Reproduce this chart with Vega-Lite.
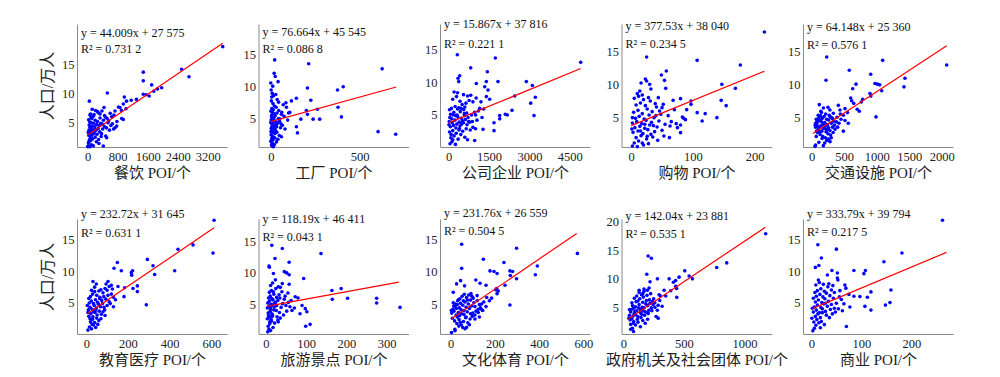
{
"$schema":"https://vega.github.io/schema/vega-lite/v6.json",
"padding":{"left":39,"top":18,"right":5,"bottom":5},
"background":"white",
"datasets":{
"fit":[
{"p":1,"x1":20,"y1":2.85,"x2":3600,"y2":18.6},
{"p":2,"x1":0,"y1":4.55,"x2":705,"y2":9.96},
{"p":3,"x1":0,"y1":3.78,"x2":4909,"y2":12.1},
{"p":4,"x1":0,"y1":3.8,"x2":216,"y2":11.96},
{"p":5,"x1":20,"y1":2.66,"x2":2077,"y2":15.9},
{"p":6,"x1":8,"y1":3.35,"x2":613,"y2":16.9},
{"p":7,"x1":5,"y1":4.7,"x2":330,"y2":8.54},
{"p":8,"x1":5,"y1":2.77,"x2":570,"y2":15.87},
{"p":9,"x1":40,"y1":2.96,"x2":1173,"y2":19.05},
{"p":10,"x1":3,"y1":4.08,"x2":270,"y2":12.99}
],
"ann":[
{"p":1,"eq":"y = 44.009x + 27 575","r2":"R² = 0.731 2"},
{"p":2,"eq":"y = 76.664x + 45 545","r2":"R² = 0.086 8"},
{"p":3,"eq":"y = 15.867x + 37 816","r2":"R² = 0.221 1"},
{"p":4,"eq":"y = 377.53x + 38 040","r2":"R² = 0.234 5"},
{"p":5,"eq":"y = 64.148x + 25 360","r2":"R² = 0.576 1"},
{"p":6,"eq":"y = 232.72x + 31 645","r2":"R² = 0.631 1"},
{"p":7,"eq":"y = 118.19x + 46 411","r2":"R² = 0.043 1"},
{"p":8,"eq":"y = 231.76x + 26 559","r2":"R² = 0.504 5"},
{"p":9,"eq":"y = 142.04x + 23 881","r2":"R² = 0.535 1"},
{"p":10,"eq":"y = 333.79x + 39 794","r2":"R² = 0.217 5"}
],
"pts":[
{"p":1,"x":3600,"y":18.0},{"p":1,"x":2506,"y":14.1},{"p":1,"x":2701,"y":12.8},{"p":1,"x":1483,"y":13.6},{"p":1,"x":1483,"y":12.1},{"p":1,"x":1706,"y":11.4},{"p":1,"x":1483,"y":9.8},{"p":1,"x":1973,"y":10.9},{"p":1,"x":1860,"y":10.7},{"p":1,"x":1760,"y":10.3},{"p":1,"x":1640,"y":9.5},{"p":1,"x":1560,"y":9.7},{"p":1,"x":1300,"y":8.9},{"p":1,"x":1160,"y":8.75},{"p":1,"x":1035,"y":8.6},{"p":1,"x":977,"y":9.3},{"p":1,"x":523,"y":10.0},{"p":1,"x":44,"y":8.6},{"p":1,"x":861,"y":7.5},{"p":1,"x":728,"y":6.9},{"p":1,"x":950,"y":8.1},{"p":1,"x":1021,"y":7.3},{"p":1,"x":906,"y":5.6},{"p":1,"x":950,"y":5.45},{"p":1,"x":728,"y":4.0},{"p":1,"x":773,"y":4.3},{"p":1,"x":506,"y":2.3},{"p":1,"x":480,"y":2.6},{"p":1,"x":416,"y":0.86},{"p":1,"x":435,"y":7.5},{"p":1,"x":283,"y":6.6},{"p":1,"x":900,"y":7.0},{"p":1,"x":820,"y":7.6},{"p":1,"x":700,"y":6.2},{"p":1,"x":640,"y":5.9},{"p":1,"x":600,"y":6.5},{"p":1,"x":560,"y":5.2},{"p":1,"x":520,"y":5.6},{"p":1,"x":780,"y":5.1},{"p":1,"x":660,"y":4.7},{"p":1,"x":690,"y":3.8},{"p":1,"x":620,"y":4.4},{"p":1,"x":580,"y":3.6},{"p":1,"x":540,"y":4.9},{"p":1,"x":480,"y":5.8},{"p":1,"x":450,"y":6.1},{"p":1,"x":420,"y":5.3},{"p":1,"x":380,"y":6.9},{"p":1,"x":350,"y":4.8},{"p":1,"x":330,"y":5.7},{"p":1,"x":300,"y":4.4},{"p":1,"x":280,"y":3.9},{"p":1,"x":260,"y":5.1},{"p":1,"x":240,"y":4.6},{"p":1,"x":220,"y":3.6},{"p":1,"x":200,"y":5.3},{"p":1,"x":190,"y":4.2},{"p":1,"x":175,"y":3.1},{"p":1,"x":160,"y":4.8},{"p":1,"x":150,"y":6.0},{"p":1,"x":140,"y":3.5},{"p":1,"x":130,"y":2.9},{"p":1,"x":120,"y":4.3},{"p":1,"x":110,"y":5.6},{"p":1,"x":100,"y":3.8},{"p":1,"x":95,"y":2.6},{"p":1,"x":90,"y":4.9},{"p":1,"x":80,"y":3.3},{"p":1,"x":75,"y":6.4},{"p":1,"x":70,"y":2.2},{"p":1,"x":60,"y":4.1},{"p":1,"x":55,"y":5.0},{"p":1,"x":50,"y":3.0},{"p":1,"x":45,"y":1.9},{"p":1,"x":40,"y":4.5},{"p":1,"x":35,"y":3.6},{"p":1,"x":30,"y":2.7},{"p":1,"x":25,"y":5.4},{"p":1,"x":20,"y":1.4},{"p":1,"x":15,"y":3.2},{"p":1,"x":10,"y":0.8},{"p":1,"x":5,"y":0.75},{"p":1,"x":20,"y":0.9},{"p":1,"x":60,"y":0.75},{"p":1,"x":100,"y":1.1},{"p":1,"x":150,"y":0.9},{"p":1,"x":30,"y":1.6},{"p":1,"x":80,"y":1.8},{"p":1,"x":130,"y":2.1},{"p":1,"x":200,"y":2.4},{"p":1,"x":250,"y":2.9},{"p":1,"x":320,"y":3.3},{"p":1,"x":370,"y":3.0},{"p":1,"x":400,"y":3.8},{"p":1,"x":450,"y":4.2},{"p":1,"x":360,"y":2.5},{"p":1,"x":230,"y":1.6},{"p":1,"x":290,"y":2.0},{"p":1,"x":170,"y":6.3},{"p":1,"x":210,"y":7.0},{"p":1,"x":330,"y":6.4},{"p":1,"x":260,"y":6.8},{"p":1,"x":400,"y":4.6},{"p":1,"x":500,"y":4.0},{"p":1,"x":190,"y":3.8},{"p":1,"x":300,"y":1.3},{"p":1,"x":120,"y":7.2},{"p":1,"x":90,"y":5.8},{"p":1,"x":60,"y":6.2},
{"p":2,"x":22,"y":14.2},{"p":2,"x":213,"y":13.6},{"p":2,"x":626,"y":12.8},{"p":2,"x":19,"y":12.1},{"p":2,"x":25,"y":11.6},{"p":2,"x":41,"y":10.8},{"p":2,"x":0,"y":10.6},{"p":2,"x":11,"y":10.1},{"p":2,"x":206,"y":9.8},{"p":2,"x":375,"y":9.5},{"p":2,"x":407,"y":10.0},{"p":2,"x":378,"y":6.8},{"p":2,"x":397,"y":5.3},{"p":2,"x":603,"y":3.0},{"p":2,"x":702,"y":2.6},{"p":2,"x":144,"y":8.2},{"p":2,"x":116,"y":7.8},{"p":2,"x":225,"y":7.9},{"p":2,"x":262,"y":6.5},{"p":2,"x":200,"y":6.3},{"p":2,"x":206,"y":5.7},{"p":2,"x":275,"y":4.95},{"p":2,"x":238,"y":4.95},{"p":2,"x":169,"y":4.95},{"p":2,"x":144,"y":3.75},{"p":2,"x":150,"y":2.8},{"p":2,"x":107,"y":6.0},{"p":2,"x":88,"y":6.8},{"p":2,"x":60,"y":5.7},{"p":2,"x":51,"y":5.0},{"p":2,"x":2,"y":9.5},{"p":2,"x":8,"y":9.0},{"p":2,"x":5,"y":8.4},{"p":2,"x":15,"y":8.6},{"p":2,"x":3,"y":7.8},{"p":2,"x":12,"y":7.4},{"p":2,"x":20,"y":7.0},{"p":2,"x":6,"y":6.6},{"p":2,"x":1,"y":6.2},{"p":2,"x":10,"y":6.0},{"p":2,"x":18,"y":5.8},{"p":2,"x":25,"y":5.5},{"p":2,"x":4,"y":5.3},{"p":2,"x":9,"y":5.1},{"p":2,"x":14,"y":4.9},{"p":2,"x":22,"y":4.7},{"p":2,"x":30,"y":4.5},{"p":2,"x":0,"y":4.4},{"p":2,"x":7,"y":4.2},{"p":2,"x":16,"y":4.0},{"p":2,"x":11,"y":3.9},{"p":2,"x":28,"y":3.7},{"p":2,"x":3,"y":3.5},{"p":2,"x":19,"y":3.3},{"p":2,"x":6,"y":3.1},{"p":2,"x":13,"y":2.9},{"p":2,"x":24,"y":2.7},{"p":2,"x":2,"y":2.5},{"p":2,"x":9,"y":2.3},{"p":2,"x":17,"y":2.1},{"p":2,"x":5,"y":1.9},{"p":2,"x":12,"y":1.7},{"p":2,"x":0,"y":1.5},{"p":2,"x":8,"y":1.2},{"p":2,"x":4,"y":0.9},{"p":2,"x":10,"y":0.7},{"p":2,"x":15,"y":0.65},{"p":2,"x":20,"y":1.0},{"p":2,"x":1,"y":3.0},{"p":2,"x":26,"y":3.2},{"p":2,"x":33,"y":3.8},{"p":2,"x":38,"y":4.3},{"p":2,"x":42,"y":5.0},{"p":2,"x":35,"y":5.9},{"p":2,"x":45,"y":6.3},{"p":2,"x":50,"y":4.6},{"p":2,"x":55,"y":3.6},{"p":2,"x":48,"y":2.4},{"p":2,"x":40,"y":1.8},{"p":2,"x":32,"y":1.4},{"p":2,"x":60,"y":2.2},{"p":2,"x":65,"y":4.0},{"p":2,"x":70,"y":7.2},{"p":2,"x":75,"y":5.4},{"p":2,"x":80,"y":3.4},{"p":2,"x":30,"y":6.8},{"p":2,"x":36,"y":8.0},{"p":2,"x":28,"y":8.8},{"p":2,"x":44,"y":7.6},{"p":2,"x":5,"y":5.6},{"p":2,"x":14,"y":6.4},{"p":2,"x":21,"y":3.6},{"p":2,"x":27,"y":4.1},{"p":2,"x":2,"y":4.8},{"p":2,"x":18,"y":5.2},{"p":2,"x":11,"y":4.5},{"p":2,"x":7,"y":3.8},{"p":2,"x":23,"y":2.0},{"p":2,"x":34,"y":2.9},{"p":2,"x":95,"y":4.8},{"p":2,"x":100,"y":5.9},{"p":2,"x":85,"y":7.5},{"p":2,"x":58,"y":4.2},{"p":2,"x":62,"y":6.0},
{"p":3,"x":4909,"y":13.05},{"p":3,"x":320,"y":14.2},{"p":3,"x":1733,"y":13.7},{"p":3,"x":818,"y":12.2},{"p":3,"x":1436,"y":11.6},{"p":3,"x":409,"y":11.0},{"p":3,"x":347,"y":10.6},{"p":3,"x":372,"y":10.1},{"p":3,"x":1399,"y":10.1},{"p":3,"x":1461,"y":8.8},{"p":3,"x":1339,"y":9.3},{"p":3,"x":1833,"y":10.1},{"p":3,"x":2887,"y":10.1},{"p":3,"x":3110,"y":9.5},{"p":3,"x":1027,"y":9.8},{"p":3,"x":2454,"y":7.9},{"p":3,"x":1524,"y":7.4},{"p":3,"x":3049,"y":6.8},{"p":3,"x":3221,"y":7.7},{"p":3,"x":3172,"y":4.9},{"p":3,"x":2354,"y":5.7},{"p":3,"x":2105,"y":5.1},{"p":3,"x":1896,"y":4.9},{"p":3,"x":1896,"y":4.4},{"p":3,"x":2180,"y":5.0},{"p":3,"x":1685,"y":3.8},{"p":3,"x":1685,"y":2.6},{"p":3,"x":1276,"y":2.8},{"p":3,"x":966,"y":1.1},{"p":3,"x":1238,"y":4.6},{"p":3,"x":50,"y":0.6},{"p":3,"x":120,"y":0.9},{"p":3,"x":250,"y":0.5},{"p":3,"x":80,"y":1.5},{"p":3,"x":200,"y":1.8},{"p":3,"x":350,"y":1.3},{"p":3,"x":450,"y":2.0},{"p":3,"x":600,"y":1.6},{"p":3,"x":700,"y":1.2},{"p":3,"x":30,"y":2.4},{"p":3,"x":150,"y":2.6},{"p":3,"x":280,"y":2.2},{"p":3,"x":400,"y":2.9},{"p":3,"x":520,"y":2.5},{"p":3,"x":650,"y":2.9},{"p":3,"x":800,"y":2.7},{"p":3,"x":900,"y":3.1},{"p":3,"x":1000,"y":2.9},{"p":3,"x":60,"y":3.2},{"p":3,"x":180,"y":3.4},{"p":3,"x":300,"y":3.6},{"p":3,"x":420,"y":3.3},{"p":3,"x":550,"y":3.8},{"p":3,"x":680,"y":3.5},{"p":3,"x":780,"y":3.9},{"p":3,"x":880,"y":4.0},{"p":3,"x":1050,"y":4.2},{"p":3,"x":20,"y":4.0},{"p":3,"x":110,"y":4.4},{"p":3,"x":230,"y":4.2},{"p":3,"x":340,"y":4.7},{"p":3,"x":470,"y":4.5},{"p":3,"x":590,"y":4.9},{"p":3,"x":720,"y":4.6},{"p":3,"x":850,"y":5.0},{"p":3,"x":960,"y":5.4},{"p":3,"x":1100,"y":5.6},{"p":3,"x":70,"y":5.1},{"p":3,"x":190,"y":5.4},{"p":3,"x":310,"y":5.0},{"p":3,"x":430,"y":5.5},{"p":3,"x":560,"y":5.8},{"p":3,"x":670,"y":5.3},{"p":3,"x":100,"y":6.0},{"p":3,"x":240,"y":6.3},{"p":3,"x":380,"y":6.1},{"p":3,"x":500,"y":6.6},{"p":3,"x":640,"y":6.8},{"p":3,"x":760,"y":7.2},{"p":3,"x":900,"y":7.0},{"p":3,"x":1020,"y":7.6},{"p":3,"x":150,"y":7.4},{"p":3,"x":290,"y":7.8},{"p":3,"x":420,"y":7.1},{"p":3,"x":550,"y":8.1},{"p":3,"x":700,"y":7.9},{"p":3,"x":820,"y":8.0},{"p":3,"x":200,"y":8.5},{"p":3,"x":330,"y":8.4},{"p":3,"x":40,"y":4.6},{"p":3,"x":130,"y":3.8},{"p":3,"x":260,"y":4.9},{"p":3,"x":390,"y":3.9},{"p":3,"x":510,"y":4.1},{"p":3,"x":620,"y":4.3},{"p":3,"x":740,"y":4.0},{"p":3,"x":30,"y":5.8},{"p":3,"x":160,"y":5.0},{"p":3,"x":270,"y":3.0},{"p":3,"x":380,"y":2.7},{"p":3,"x":480,"y":3.6},{"p":3,"x":580,"y":5.2},{"p":3,"x":150,"y":1.2},{"p":3,"x":10,"y":3.5},{"p":3,"x":90,"y":2.0},{"p":3,"x":330,"y":5.9},{"p":3,"x":460,"y":6.0},{"p":3,"x":600,"y":6.2},{"p":3,"x":1150,"y":6.0},{"p":3,"x":1300,"y":5.9},{"p":3,"x":1200,"y":7.0},{"p":3,"x":1400,"y":7.8},{"p":3,"x":1000,"y":5.0},
{"p":4,"x":216,"y":17.85},{"p":4,"x":25,"y":14.1},{"p":4,"x":107,"y":13.6},{"p":4,"x":177,"y":12.9},{"p":4,"x":57,"y":12.0},{"p":4,"x":49,"y":11.4},{"p":4,"x":54,"y":10.6},{"p":4,"x":23,"y":10.8},{"p":4,"x":25,"y":10.5},{"p":4,"x":16,"y":10.2},{"p":4,"x":30,"y":10.0},{"p":4,"x":56,"y":9.4},{"p":4,"x":147,"y":10.0},{"p":4,"x":169,"y":9.4},{"p":4,"x":107,"y":5.75},{"p":4,"x":97,"y":7.0},{"p":4,"x":97,"y":7.5},{"p":4,"x":146,"y":7.6},{"p":4,"x":154,"y":6.8},{"p":4,"x":139,"y":5.0},{"p":4,"x":83,"y":5.1},{"p":4,"x":85,"y":4.9},{"p":4,"x":80,"y":7.85},{"p":4,"x":68,"y":7.6},{"p":4,"x":73,"y":4.1},{"p":4,"x":80,"y":3.9},{"p":4,"x":80,"y":2.75},{"p":4,"x":53,"y":2.25},{"p":4,"x":63,"y":3.75},{"p":4,"x":46,"y":6.0},{"p":4,"x":50,"y":6.5},{"p":4,"x":10,"y":0.65},{"p":4,"x":2,"y":0.75},{"p":4,"x":5,"y":1.2},{"p":4,"x":12,"y":1.5},{"p":4,"x":20,"y":0.9},{"p":4,"x":28,"y":1.1},{"p":4,"x":8,"y":2.0},{"p":4,"x":16,"y":2.3},{"p":4,"x":25,"y":1.8},{"p":4,"x":35,"y":2.1},{"p":4,"x":3,"y":2.8},{"p":4,"x":11,"y":3.0},{"p":4,"x":19,"y":2.6},{"p":4,"x":27,"y":3.2},{"p":4,"x":38,"y":2.9},{"p":4,"x":6,"y":3.5},{"p":4,"x":14,"y":3.7},{"p":4,"x":22,"y":3.4},{"p":4,"x":30,"y":3.9},{"p":4,"x":42,"y":3.6},{"p":4,"x":2,"y":4.2},{"p":4,"x":9,"y":4.4},{"p":4,"x":17,"y":4.1},{"p":4,"x":24,"y":4.6},{"p":4,"x":33,"y":4.3},{"p":4,"x":45,"y":4.5},{"p":4,"x":7,"y":4.9},{"p":4,"x":13,"y":5.2},{"p":4,"x":21,"y":4.8},{"p":4,"x":29,"y":5.4},{"p":4,"x":37,"y":5.0},{"p":4,"x":4,"y":5.8},{"p":4,"x":11,"y":6.1},{"p":4,"x":18,"y":5.6},{"p":4,"x":26,"y":6.3},{"p":4,"x":34,"y":5.9},{"p":4,"x":41,"y":6.6},{"p":4,"x":8,"y":6.9},{"p":4,"x":15,"y":7.2},{"p":4,"x":23,"y":6.8},{"p":4,"x":31,"y":7.5},{"p":4,"x":39,"y":7.1},{"p":4,"x":5,"y":7.9},{"p":4,"x":12,"y":8.2},{"p":4,"x":20,"y":7.7},{"p":4,"x":28,"y":8.0},{"p":4,"x":10,"y":8.6},{"p":4,"x":18,"y":8.4},{"p":4,"x":1,"y":3.3},{"p":4,"x":32,"y":2.5},{"p":4,"x":43,"y":1.6},{"p":4,"x":50,"y":3.1},{"p":4,"x":55,"y":4.0},{"p":4,"x":60,"y":5.3},{"p":4,"x":65,"y":4.4},{"p":4,"x":70,"y":6.2},{"p":4,"x":75,"y":3.5},{"p":4,"x":48,"y":5.5},{"p":4,"x":52,"y":7.0},{"p":4,"x":14,"y":9.0},{"p":4,"x":22,"y":4.0},{"p":4,"x":36,"y":3.8},{"p":4,"x":2,"y":5.0},{"p":4,"x":26,"y":2.2},{"p":4,"x":40,"y":5.3},{"p":4,"x":15,"y":3.0},{"p":4,"x":18,"y":1.2},{"p":4,"x":90,"y":6.2},{"p":4,"x":88,"y":4.7},{"p":4,"x":120,"y":5.6},{"p":4,"x":115,"y":4.5},{"p":4,"x":44,"y":8.0},{"p":4,"x":62,"y":2.0},{"p":4,"x":32,"y":9.3},
{"p":5,"x":2077,"y":13.0},{"p":5,"x":231,"y":14.2},{"p":5,"x":1092,"y":13.7},{"p":5,"x":578,"y":12.2},{"p":5,"x":908,"y":11.6},{"p":5,"x":220,"y":10.7},{"p":5,"x":1435,"y":11.0},{"p":5,"x":1420,"y":9.7},{"p":5,"x":682,"y":10.1},{"p":5,"x":631,"y":9.4},{"p":5,"x":974,"y":10.2},{"p":5,"x":1010,"y":10.1},{"p":5,"x":1046,"y":10.0},{"p":5,"x":1077,"y":9.1},{"p":5,"x":897,"y":8.7},{"p":5,"x":910,"y":8.3},{"p":5,"x":785,"y":7.8},{"p":5,"x":763,"y":7.4},{"p":5,"x":732,"y":6.0},{"p":5,"x":989,"y":5.15},{"p":5,"x":600,"y":8.0},{"p":5,"x":615,"y":7.6},{"p":5,"x":646,"y":7.2},{"p":5,"x":512,"y":6.4},{"p":5,"x":487,"y":5.4},{"p":5,"x":435,"y":6.2},{"p":5,"x":512,"y":4.6},{"p":5,"x":563,"y":4.2},{"p":5,"x":410,"y":6.9},{"p":5,"x":333,"y":5.7},{"p":5,"x":282,"y":5.2},{"p":5,"x":487,"y":3.0},{"p":5,"x":117,"y":7.0},{"p":5,"x":282,"y":1.4},{"p":5,"x":51,"y":0.7},{"p":5,"x":179,"y":0.8},{"p":5,"x":700,"y":6.3},{"p":5,"x":550,"y":5.8},{"p":5,"x":450,"y":4.8},{"p":5,"x":380,"y":4.4},{"p":5,"x":60,"y":3.6},{"p":5,"x":80,"y":4.1},{"p":5,"x":100,"y":3.2},{"p":5,"x":120,"y":4.6},{"p":5,"x":140,"y":3.8},{"p":5,"x":160,"y":4.9},{"p":5,"x":180,"y":3.4},{"p":5,"x":200,"y":4.3},{"p":5,"x":220,"y":2.9},{"p":5,"x":240,"y":3.9},{"p":5,"x":260,"y":4.7},{"p":5,"x":280,"y":3.1},{"p":5,"x":300,"y":4.2},{"p":5,"x":320,"y":3.6},{"p":5,"x":340,"y":4.5},{"p":5,"x":360,"y":3.3},{"p":5,"x":70,"y":4.8},{"p":5,"x":90,"y":2.8},{"p":5,"x":110,"y":5.0},{"p":5,"x":130,"y":2.5},{"p":5,"x":150,"y":4.4},{"p":5,"x":170,"y":2.2},{"p":5,"x":190,"y":5.2},{"p":5,"x":210,"y":2.0},{"p":5,"x":230,"y":4.8},{"p":5,"x":250,"y":2.6},{"p":5,"x":270,"y":5.4},{"p":5,"x":290,"y":2.4},{"p":5,"x":310,"y":5.0},{"p":5,"x":330,"y":2.8},{"p":5,"x":55,"y":3.9},{"p":5,"x":75,"y":3.0},{"p":5,"x":95,"y":4.5},{"p":5,"x":115,"y":3.5},{"p":5,"x":135,"y":5.3},{"p":5,"x":155,"y":3.0},{"p":5,"x":175,"y":4.0},{"p":5,"x":195,"y":3.7},{"p":5,"x":215,"y":5.6},{"p":5,"x":235,"y":3.2},{"p":5,"x":255,"y":1.8},{"p":5,"x":275,"y":1.5},{"p":5,"x":200,"y":1.2},{"p":5,"x":230,"y":1.6},{"p":5,"x":160,"y":1.9},{"p":5,"x":300,"y":2.0},{"p":5,"x":350,"y":3.9},{"p":5,"x":390,"y":5.1},{"p":5,"x":420,"y":4.2},{"p":5,"x":80,"y":4.4},{"p":5,"x":60,"y":4.2},{"p":5,"x":100,"y":5.4},{"p":5,"x":140,"y":6.0},{"p":5,"x":180,"y":6.5},{"p":5,"x":250,"y":6.6},{"p":5,"x":280,"y":6.2},{"p":5,"x":210,"y":3.4},{"p":5,"x":120,"y":2.9},{"p":5,"x":90,"y":3.7},{"p":5,"x":70,"y":2.2},{"p":5,"x":60,"y":0.9},{"p":5,"x":110,"y":1.3},{"p":5,"x":400,"y":3.6},{"p":5,"x":440,"y":5.6},{"p":5,"x":320,"y":4.9},{"p":5,"x":150,"y":5.8},{"p":5,"x":260,"y":3.5},{"p":5,"x":230,"y":4.0},
{"p":6,"x":613,"y":18.1},{"p":6,"x":608,"y":12.9},{"p":6,"x":512,"y":14.2},{"p":6,"x":440,"y":13.5},{"p":6,"x":424,"y":10.1},{"p":6,"x":328,"y":9.5},{"p":6,"x":320,"y":10.9},{"p":6,"x":293,"y":11.9},{"p":6,"x":288,"y":4.7},{"p":6,"x":245,"y":7.7},{"p":6,"x":224,"y":7.3},{"p":6,"x":245,"y":6.8},{"p":6,"x":216,"y":9.8},{"p":6,"x":218,"y":9.4},{"p":6,"x":222,"y":10.1},{"p":6,"x":184,"y":7.4},{"p":6,"x":181,"y":6.0},{"p":6,"x":149,"y":11.4},{"p":6,"x":133,"y":10.5},{"p":6,"x":168,"y":10.1},{"p":6,"x":152,"y":7.6},{"p":6,"x":32,"y":8.4},{"p":6,"x":48,"y":8.0},{"p":6,"x":104,"y":8.4},{"p":6,"x":8,"y":0.7},{"p":6,"x":15,"y":1.2},{"p":6,"x":25,"y":0.9},{"p":6,"x":35,"y":1.5},{"p":6,"x":45,"y":1.1},{"p":6,"x":20,"y":2.0},{"p":6,"x":30,"y":2.4},{"p":6,"x":40,"y":1.9},{"p":6,"x":50,"y":2.6},{"p":6,"x":60,"y":2.2},{"p":6,"x":12,"y":2.9},{"p":6,"x":22,"y":3.3},{"p":6,"x":32,"y":2.8},{"p":6,"x":42,"y":3.5},{"p":6,"x":52,"y":3.1},{"p":6,"x":62,"y":3.7},{"p":6,"x":72,"y":3.2},{"p":6,"x":10,"y":3.9},{"p":6,"x":18,"y":4.3},{"p":6,"x":28,"y":4.0},{"p":6,"x":38,"y":4.6},{"p":6,"x":48,"y":4.2},{"p":6,"x":58,"y":4.8},{"p":6,"x":68,"y":4.4},{"p":6,"x":78,"y":4.9},{"p":6,"x":88,"y":3.9},{"p":6,"x":14,"y":5.0},{"p":6,"x":24,"y":5.3},{"p":6,"x":34,"y":4.9},{"p":6,"x":44,"y":5.5},{"p":6,"x":54,"y":5.1},{"p":6,"x":64,"y":5.7},{"p":6,"x":74,"y":5.4},{"p":6,"x":84,"y":6.0},{"p":6,"x":94,"y":5.6},{"p":6,"x":104,"y":6.2},{"p":6,"x":20,"y":6.0},{"p":6,"x":30,"y":6.4},{"p":6,"x":40,"y":6.8},{"p":6,"x":50,"y":6.2},{"p":6,"x":60,"y":6.9},{"p":6,"x":70,"y":7.1},{"p":6,"x":80,"y":6.6},{"p":6,"x":90,"y":7.3},{"p":6,"x":100,"y":7.0},{"p":6,"x":110,"y":7.6},{"p":6,"x":120,"y":7.8},{"p":6,"x":40,"y":7.5},{"p":6,"x":25,"y":7.0},{"p":6,"x":95,"y":8.0},{"p":6,"x":110,"y":5.2},{"p":6,"x":120,"y":6.4},{"p":6,"x":130,"y":5.9},{"p":6,"x":140,"y":5.5},{"p":6,"x":100,"y":4.6},{"p":6,"x":90,"y":3.0},{"p":6,"x":80,"y":3.6},{"p":6,"x":70,"y":2.5},{"p":6,"x":55,"y":1.6},{"p":6,"x":45,"y":3.9},{"p":6,"x":35,"y":3.6},{"p":6,"x":5,"y":4.6},{"p":6,"x":8,"y":3.5},{"p":6,"x":12,"y":5.7},{"p":6,"x":28,"y":1.6},{"p":6,"x":65,"y":5.9},{"p":6,"x":115,"y":4.9},{"p":6,"x":130,"y":4.4},{"p":6,"x":125,"y":7.2},{"p":6,"x":85,"y":4.3},{"p":6,"x":18,"y":2.5},
{"p":7,"x":15,"y":14.4},{"p":7,"x":41,"y":13.9},{"p":7,"x":137,"y":13.1},{"p":7,"x":23,"y":12.3},{"p":7,"x":58,"y":11.7},{"p":7,"x":8,"y":11.1},{"p":7,"x":9,"y":10.9},{"p":7,"x":46,"y":10.2},{"p":7,"x":52,"y":10.0},{"p":7,"x":58,"y":9.7},{"p":7,"x":94,"y":9.1},{"p":7,"x":19,"y":9.9},{"p":7,"x":164,"y":7.2},{"p":7,"x":187,"y":7.5},{"p":7,"x":165,"y":5.8},{"p":7,"x":203,"y":5.95},{"p":7,"x":275,"y":5.95},{"p":7,"x":275,"y":5.2},{"p":7,"x":333,"y":4.5},{"p":7,"x":102,"y":3.8},{"p":7,"x":98,"y":4.3},{"p":7,"x":99,"y":1.5},{"p":7,"x":110,"y":1.8},{"p":7,"x":73,"y":6.2},{"p":7,"x":63,"y":5.6},{"p":7,"x":71,"y":4.4},{"p":7,"x":58,"y":8.2},{"p":7,"x":41,"y":8.3},{"p":7,"x":36,"y":7.7},{"p":7,"x":31,"y":2.2},{"p":7,"x":65,"y":4.0},{"p":7,"x":80,"y":6.0},{"p":7,"x":55,"y":6.8},{"p":7,"x":85,"y":3.5},{"p":7,"x":90,"y":4.8},{"p":7,"x":5,"y":0.6},{"p":7,"x":8,"y":1.0},{"p":7,"x":12,"y":0.8},{"p":7,"x":6,"y":1.5},{"p":7,"x":10,"y":1.9},{"p":7,"x":14,"y":2.3},{"p":7,"x":4,"y":2.7},{"p":7,"x":9,"y":3.0},{"p":7,"x":13,"y":2.6},{"p":7,"x":17,"y":3.3},{"p":7,"x":6,"y":3.6},{"p":7,"x":11,"y":3.9},{"p":7,"x":15,"y":3.5},{"p":7,"x":20,"y":4.1},{"p":7,"x":4,"y":4.4},{"p":7,"x":8,"y":4.7},{"p":7,"x":12,"y":4.3},{"p":7,"x":16,"y":4.9},{"p":7,"x":22,"y":4.6},{"p":7,"x":26,"y":4.0},{"p":7,"x":5,"y":5.2},{"p":7,"x":9,"y":5.5},{"p":7,"x":13,"y":5.0},{"p":7,"x":18,"y":5.7},{"p":7,"x":24,"y":5.3},{"p":7,"x":30,"y":5.6},{"p":7,"x":7,"y":6.0},{"p":7,"x":11,"y":6.3},{"p":7,"x":15,"y":5.9},{"p":7,"x":20,"y":6.6},{"p":7,"x":27,"y":6.1},{"p":7,"x":33,"y":6.5},{"p":7,"x":9,"y":6.9},{"p":7,"x":14,"y":7.2},{"p":7,"x":19,"y":7.0},{"p":7,"x":25,"y":7.5},{"p":7,"x":31,"y":7.8},{"p":7,"x":12,"y":8.0},{"p":7,"x":17,"y":8.4},{"p":7,"x":28,"y":3.0},{"p":7,"x":34,"y":3.7},{"p":7,"x":38,"y":4.5},{"p":7,"x":42,"y":5.1},{"p":7,"x":46,"y":5.8},{"p":7,"x":50,"y":4.8},{"p":7,"x":36,"y":2.8},{"p":7,"x":44,"y":3.3},{"p":7,"x":48,"y":6.3},{"p":7,"x":22,"y":2.0},{"p":7,"x":30,"y":2.5},{"p":7,"x":18,"y":1.3},{"p":7,"x":40,"y":7.0},{"p":7,"x":24,"y":8.9},{"p":7,"x":16,"y":3.1},{"p":7,"x":7,"y":3.2},{"p":7,"x":21,"y":5.1},{"p":7,"x":35,"y":6.0},{"p":7,"x":13,"y":4.6},{"p":7,"x":27,"y":4.8},{"p":7,"x":10,"y":2.2},{"p":7,"x":52,"y":3.9},{"p":7,"x":56,"y":5.3},{"p":7,"x":60,"y":4.6},
{"p":8,"x":573,"y":12.8},{"p":8,"x":50,"y":14.2},{"p":8,"x":298,"y":13.6},{"p":8,"x":148,"y":11.9},{"p":8,"x":241,"y":11.4},{"p":8,"x":392,"y":10.85},{"p":8,"x":383,"y":9.5},{"p":8,"x":50,"y":10.5},{"p":8,"x":178,"y":10.1},{"p":8,"x":196,"y":10.0},{"p":8,"x":210,"y":9.7},{"p":8,"x":268,"y":10.1},{"p":8,"x":280,"y":10.0},{"p":8,"x":270,"y":9.4},{"p":8,"x":298,"y":8.9},{"p":8,"x":246,"y":7.9},{"p":8,"x":268,"y":4.85},{"p":8,"x":208,"y":7.4},{"p":8,"x":204,"y":7.2},{"p":8,"x":160,"y":7.9},{"p":8,"x":133,"y":8.2},{"p":8,"x":114,"y":8.7},{"p":8,"x":163,"y":6.0},{"p":8,"x":185,"y":5.9},{"p":8,"x":175,"y":5.5},{"p":8,"x":141,"y":4.1},{"p":8,"x":130,"y":3.0},{"p":8,"x":110,"y":2.7},{"p":8,"x":45,"y":8.6},{"p":8,"x":27,"y":8.1},{"p":8,"x":12,"y":6.8},{"p":8,"x":72,"y":1.4},{"p":8,"x":4,"y":0.6},{"p":8,"x":19,"y":1.1},{"p":8,"x":150,"y":5.3},{"p":8,"x":120,"y":6.3},{"p":8,"x":160,"y":4.6},{"p":8,"x":140,"y":5.0},{"p":8,"x":210,"y":6.6},{"p":8,"x":215,"y":7.0},{"p":8,"x":5,"y":3.6},{"p":8,"x":10,"y":4.2},{"p":8,"x":15,"y":3.9},{"p":8,"x":20,"y":4.6},{"p":8,"x":25,"y":3.3},{"p":8,"x":30,"y":4.9},{"p":8,"x":35,"y":3.7},{"p":8,"x":40,"y":4.4},{"p":8,"x":45,"y":5.1},{"p":8,"x":50,"y":3.5},{"p":8,"x":55,"y":4.8},{"p":8,"x":60,"y":4.0},{"p":8,"x":65,"y":5.3},{"p":8,"x":70,"y":4.5},{"p":8,"x":75,"y":3.8},{"p":8,"x":80,"y":5.0},{"p":8,"x":85,"y":4.3},{"p":8,"x":90,"y":5.6},{"p":8,"x":95,"y":4.7},{"p":8,"x":100,"y":3.6},{"p":8,"x":105,"y":5.2},{"p":8,"x":110,"y":4.6},{"p":8,"x":115,"y":3.9},{"p":8,"x":120,"y":5.5},{"p":8,"x":125,"y":4.2},{"p":8,"x":130,"y":4.9},{"p":8,"x":8,"y":2.8},{"p":8,"x":18,"y":2.4},{"p":8,"x":28,"y":2.0},{"p":8,"x":38,"y":2.6},{"p":8,"x":48,"y":1.8},{"p":8,"x":58,"y":2.3},{"p":8,"x":68,"y":2.9},{"p":8,"x":78,"y":2.1},{"p":8,"x":88,"y":2.7},{"p":8,"x":98,"y":3.1},{"p":8,"x":12,"y":5.2},{"p":8,"x":22,"y":5.0},{"p":8,"x":32,"y":5.5},{"p":8,"x":42,"y":5.8},{"p":8,"x":52,"y":6.2},{"p":8,"x":62,"y":6.5},{"p":8,"x":72,"y":6.0},{"p":8,"x":82,"y":6.4},{"p":8,"x":92,"y":6.6},{"p":8,"x":102,"y":5.9},{"p":8,"x":37,"y":1.6},{"p":8,"x":44,"y":2.2},{"p":8,"x":55,"y":1.4},{"p":8,"x":65,"y":1.2},{"p":8,"x":85,"y":1.8},{"p":8,"x":30,"y":3.0},{"p":8,"x":40,"y":3.2},{"p":8,"x":60,"y":3.4},{"p":8,"x":70,"y":3.0},{"p":8,"x":90,"y":3.5},{"p":8,"x":110,"y":3.3},{"p":8,"x":125,"y":3.7},{"p":8,"x":135,"y":4.4},{"p":8,"x":145,"y":4.0},{"p":8,"x":3,"y":4.0},{"p":8,"x":14,"y":4.7},{"p":8,"x":26,"y":4.3},{"p":8,"x":36,"y":5.7},{"p":8,"x":47,"y":4.1},{"p":8,"x":58,"y":5.5},{"p":8,"x":76,"y":5.6},{"p":8,"x":96,"y":6.2},{"p":8,"x":63,"y":7.8},{"p":8,"x":20,"y":0.9},
{"p":9,"x":1176,"y":17.9},{"p":9,"x":854,"y":12.8},{"p":9,"x":771,"y":12.0},{"p":9,"x":204,"y":14.0},{"p":9,"x":231,"y":13.6},{"p":9,"x":507,"y":11.4},{"p":9,"x":193,"y":10.8},{"p":9,"x":281,"y":10.0},{"p":9,"x":378,"y":10.0},{"p":9,"x":432,"y":9.7},{"p":9,"x":413,"y":9.4},{"p":9,"x":543,"y":10.5},{"p":9,"x":570,"y":10.0},{"p":9,"x":460,"y":10.3},{"p":9,"x":441,"y":6.75},{"p":9,"x":432,"y":8.7},{"p":9,"x":440,"y":8.3},{"p":9,"x":391,"y":7.9},{"p":9,"x":350,"y":7.0},{"p":9,"x":336,"y":8.0},{"p":9,"x":295,"y":7.2},{"p":9,"x":305,"y":7.0},{"p":9,"x":259,"y":5.8},{"p":9,"x":287,"y":5.35},{"p":9,"x":287,"y":3.1},{"p":9,"x":270,"y":3.4},{"p":9,"x":212,"y":8.4},{"p":9,"x":198,"y":8.0},{"p":9,"x":130,"y":8.0},{"p":9,"x":220,"y":9.5},{"p":9,"x":83,"y":2.2},{"p":9,"x":60,"y":1.15},{"p":9,"x":83,"y":0.75},{"p":9,"x":300,"y":6.2},{"p":9,"x":250,"y":6.5},{"p":9,"x":320,"y":5.2},{"p":9,"x":50,"y":3.6},{"p":9,"x":60,"y":4.2},{"p":9,"x":70,"y":3.0},{"p":9,"x":80,"y":4.8},{"p":9,"x":90,"y":3.9},{"p":9,"x":100,"y":5.1},{"p":9,"x":110,"y":4.4},{"p":9,"x":120,"y":3.4},{"p":9,"x":130,"y":5.5},{"p":9,"x":140,"y":4.6},{"p":9,"x":150,"y":3.8},{"p":9,"x":160,"y":5.9},{"p":9,"x":170,"y":4.9},{"p":9,"x":180,"y":4.2},{"p":9,"x":190,"y":6.2},{"p":9,"x":200,"y":5.3},{"p":9,"x":210,"y":4.5},{"p":9,"x":220,"y":5.7},{"p":9,"x":230,"y":4.9},{"p":9,"x":240,"y":6.0},{"p":9,"x":55,"y":2.8},{"p":9,"x":65,"y":4.6},{"p":9,"x":75,"y":5.3},{"p":9,"x":85,"y":2.5},{"p":9,"x":95,"y":4.3},{"p":9,"x":105,"y":6.0},{"p":9,"x":115,"y":2.9},{"p":9,"x":125,"y":4.9},{"p":9,"x":135,"y":6.5},{"p":9,"x":145,"y":3.2},{"p":9,"x":155,"y":5.0},{"p":9,"x":165,"y":6.8},{"p":9,"x":175,"y":3.6},{"p":9,"x":185,"y":5.6},{"p":9,"x":195,"y":7.1},{"p":9,"x":205,"y":3.9},{"p":9,"x":215,"y":6.3},{"p":9,"x":225,"y":7.4},{"p":9,"x":235,"y":4.4},{"p":9,"x":245,"y":5.5},{"p":9,"x":70,"y":5.8},{"p":9,"x":90,"y":6.6},{"p":9,"x":110,"y":7.0},{"p":9,"x":130,"y":7.6},{"p":9,"x":150,"y":7.2},{"p":9,"x":170,"y":7.8},{"p":9,"x":60,"y":2.0},{"p":9,"x":100,"y":1.9},{"p":9,"x":120,"y":2.4},{"p":9,"x":140,"y":1.6},{"p":9,"x":160,"y":2.7},{"p":9,"x":180,"y":2.2},{"p":9,"x":200,"y":2.9},{"p":9,"x":80,"y":3.5},{"p":9,"x":100,"y":3.7},{"p":9,"x":140,"y":4.1},{"p":9,"x":160,"y":4.4},{"p":9,"x":200,"y":4.1},{"p":9,"x":120,"y":6.1},{"p":9,"x":90,"y":5.0},{"p":9,"x":50,"y":4.6},{"p":9,"x":45,"y":3.1},{"p":9,"x":170,"y":8.2},{"p":9,"x":160,"y":7.4},{"p":9,"x":260,"y":5.0},{"p":9,"x":280,"y":4.5},{"p":9,"x":75,"y":1.3},
{"p":10,"x":262,"y":18.1},{"p":10,"x":13,"y":14.2},{"p":10,"x":50,"y":13.5},{"p":10,"x":181,"y":12.9},{"p":10,"x":20,"y":12.1},{"p":10,"x":145,"y":11.5},{"p":10,"x":8,"y":10.6},{"p":10,"x":15,"y":10.9},{"p":10,"x":41,"y":10.1},{"p":10,"x":52,"y":9.7},{"p":10,"x":52,"y":8.9},{"p":10,"x":32,"y":9.4},{"p":10,"x":85,"y":10.1},{"p":10,"x":108,"y":10.1},{"p":10,"x":105,"y":9.6},{"p":10,"x":112,"y":5.85},{"p":10,"x":97,"y":5.95},{"p":10,"x":85,"y":6.0},{"p":10,"x":119,"y":6.7},{"p":10,"x":159,"y":7.0},{"p":10,"x":107,"y":4.4},{"p":10,"x":119,"y":3.8},{"p":10,"x":148,"y":4.6},{"p":10,"x":157,"y":5.0},{"p":10,"x":70,"y":1.2},{"p":10,"x":77,"y":4.3},{"p":10,"x":53,"y":8.6},{"p":10,"x":67,"y":7.8},{"p":10,"x":69,"y":7.3},{"p":10,"x":43,"y":7.7},{"p":10,"x":57,"y":6.9},{"p":10,"x":60,"y":5.5},{"p":10,"x":75,"y":6.3},{"p":10,"x":65,"y":4.8},{"p":10,"x":3,"y":0.5},{"p":10,"x":6,"y":0.9},{"p":10,"x":9,"y":1.4},{"p":10,"x":5,"y":1.9},{"p":10,"x":11,"y":2.3},{"p":10,"x":15,"y":1.8},{"p":10,"x":8,"y":2.8},{"p":10,"x":13,"y":3.2},{"p":10,"x":18,"y":2.6},{"p":10,"x":4,"y":3.5},{"p":10,"x":10,"y":3.8},{"p":10,"x":16,"y":3.4},{"p":10,"x":22,"y":4.0},{"p":10,"x":28,"y":3.6},{"p":10,"x":6,"y":4.3},{"p":10,"x":12,"y":4.6},{"p":10,"x":19,"y":4.2},{"p":10,"x":25,"y":4.8},{"p":10,"x":32,"y":4.4},{"p":10,"x":38,"y":3.9},{"p":10,"x":8,"y":5.1},{"p":10,"x":14,"y":5.4},{"p":10,"x":21,"y":5.0},{"p":10,"x":27,"y":5.6},{"p":10,"x":34,"y":5.2},{"p":10,"x":40,"y":4.7},{"p":10,"x":46,"y":4.1},{"p":10,"x":10,"y":6.0},{"p":10,"x":17,"y":6.3},{"p":10,"x":23,"y":5.9},{"p":10,"x":30,"y":6.5},{"p":10,"x":37,"y":6.1},{"p":10,"x":44,"y":5.7},{"p":10,"x":12,"y":6.9},{"p":10,"x":19,"y":7.2},{"p":10,"x":26,"y":6.8},{"p":10,"x":33,"y":7.5},{"p":10,"x":40,"y":7.0},{"p":10,"x":9,"y":7.8},{"p":10,"x":16,"y":8.2},{"p":10,"x":24,"y":7.9},{"p":10,"x":14,"y":8.6},{"p":10,"x":30,"y":3.0},{"p":10,"x":36,"y":2.6},{"p":10,"x":42,"y":3.2},{"p":10,"x":48,"y":3.5},{"p":10,"x":54,"y":4.0},{"p":10,"x":20,"y":2.0},{"p":10,"x":26,"y":1.5},{"p":10,"x":50,"y":4.9},{"p":10,"x":56,"y":5.9},{"p":10,"x":35,"y":8.0},{"p":10,"x":7,"y":6.6},{"p":10,"x":4,"y":5.7},{"p":10,"x":2,"y":4.1},{"p":10,"x":1,"y":2.5},{"p":10,"x":18,"y":1.0},{"p":10,"x":46,"y":6.6},{"p":10,"x":62,"y":3.7},{"p":10,"x":28,"y":4.9},{"p":10,"x":22,"y":3.4}
]
},
"concat":[
{"width":150,"height":123,"layer":[
{"data":{"name":"pts"},"transform":[{"filter":"datum.p==1"}],"mark":{"type":"circle","size":13,"color":"#0000ff","opacity":1},
"encoding":{"x":{"field":"x","type":"quantitative","title":"餐饮 POI/个","scale":{"domain":[-285,3715],"nice":false,"zero":false},"axis":{"values":[0,800,1600,2400,3200],"format":"d","labelOverlap":false}},
"y":{"field":"y","type":"quantitative","title":"人口/万人","scale":{"domain":[0.7,21.9],"nice":false,"zero":false},"axis":{"values":[5,10,15],"format":"d","labelOverlap":false}}}},
{"data":{"name":"fit"},"transform":[{"filter":"datum.p==1"}],"mark":{"type":"rule","color":"#ff0000","strokeWidth":1.2},
"encoding":{"x":{"field":"x1","type":"quantitative","title":"餐饮 POI/个","axis":{"values":[0,800,1600,2400,3200],"format":"d","labelOverlap":false}},"y":{"field":"y1","type":"quantitative","title":"人口/万人","axis":{"values":[5,10,15],"format":"d","labelOverlap":false}},"x2":{"field":"x2"},"y2":{"field":"y2"}}},
{"data":{"name":"ann"},"transform":[{"filter":"datum.p==1"}],"mark":{"type":"text","align":"left","baseline":"middle","dx":4,"fontSize":12,"font":"Liberation Serif","color":"#111111"},
"encoding":{"x":{"datum":-285,"type":"quantitative","title":"餐饮 POI/个","axis":{"values":[0,800,1600,2400,3200],"format":"d","labelOverlap":false}},"y":{"datum":20.34,"type":"quantitative","title":"人口/万人","axis":{"values":[5,10,15],"format":"d","labelOverlap":false}},"text":{"field":"eq"}}},
{"data":{"name":"ann"},"transform":[{"filter":"datum.p==1"}],"mark":{"type":"text","align":"left","baseline":"middle","dx":4,"fontSize":12,"font":"Liberation Serif","color":"#111111"},
"encoding":{"x":{"datum":-285,"type":"quantitative","title":"餐饮 POI/个","axis":{"values":[0,800,1600,2400,3200],"format":"d","labelOverlap":false}},"y":{"datum":17.59,"type":"quantitative","title":"人口/万人","axis":{"values":[5,10,15],"format":"d","labelOverlap":false}},"text":{"field":"r2"}}}
]},
{"width":150,"height":123,"layer":[
{"data":{"name":"pts"},"transform":[{"filter":"datum.p==2"}],"mark":{"type":"circle","size":13,"color":"#0000ff","opacity":1},
"encoding":{"x":{"field":"x","type":"quantitative","title":"工厂 POI/个","scale":{"domain":[-69,774],"nice":false,"zero":false},"axis":{"values":[0,500],"format":"d","labelOverlap":false}},
"y":{"field":"y","type":"quantitative","title":null,"scale":{"domain":[0.6,19.8],"nice":false,"zero":false},"axis":{"values":[5,10,15],"format":"d","labelOverlap":false}}}},
{"data":{"name":"fit"},"transform":[{"filter":"datum.p==2"}],"mark":{"type":"rule","color":"#ff0000","strokeWidth":1.2},
"encoding":{"x":{"field":"x1","type":"quantitative","title":"工厂 POI/个","axis":{"values":[0,500],"format":"d","labelOverlap":false}},"y":{"field":"y1","type":"quantitative","title":null,"axis":{"values":[5,10,15],"format":"d","labelOverlap":false}},"x2":{"field":"x2"},"y2":{"field":"y2"}}},
{"data":{"name":"ann"},"transform":[{"filter":"datum.p==2"}],"mark":{"type":"text","align":"left","baseline":"middle","dx":4,"fontSize":12,"font":"Liberation Serif","color":"#111111"},
"encoding":{"x":{"datum":-69,"type":"quantitative","title":"工厂 POI/个","axis":{"values":[0,500],"format":"d","labelOverlap":false}},"y":{"datum":18.6,"type":"quantitative","title":null,"axis":{"values":[5,10,15],"format":"d","labelOverlap":false}},"text":{"field":"eq"}}},
{"data":{"name":"ann"},"transform":[{"filter":"datum.p==2"}],"mark":{"type":"text","align":"left","baseline":"middle","dx":4,"fontSize":12,"font":"Liberation Serif","color":"#111111"},
"encoding":{"x":{"datum":-69,"type":"quantitative","title":"工厂 POI/个","axis":{"values":[0,500],"format":"d","labelOverlap":false}},"y":{"datum":15.9,"type":"quantitative","title":null,"axis":{"values":[5,10,15],"format":"d","labelOverlap":false}},"text":{"field":"r2"}}}
]},
{"width":150,"height":123,"layer":[
{"data":{"name":"pts"},"transform":[{"filter":"datum.p==3"}],"mark":{"type":"circle","size":13,"color":"#0000ff","opacity":1},
"encoding":{"x":{"field":"x","type":"quantitative","title":"公司企业 POI/个","scale":{"domain":[-324,5254],"nice":false,"zero":false},"axis":{"values":[0,1500,3000,4500],"format":"d","labelOverlap":false}},
"y":{"field":"y","type":"quantitative","title":null,"scale":{"domain":[0.1,18.9],"nice":false,"zero":false},"axis":{"values":[5,10,15],"format":"d","labelOverlap":false}}}},
{"data":{"name":"fit"},"transform":[{"filter":"datum.p==3"}],"mark":{"type":"rule","color":"#ff0000","strokeWidth":1.2},
"encoding":{"x":{"field":"x1","type":"quantitative","title":"公司企业 POI/个","axis":{"values":[0,1500,3000,4500],"format":"d","labelOverlap":false}},"y":{"field":"y1","type":"quantitative","title":null,"axis":{"values":[5,10,15],"format":"d","labelOverlap":false}},"x2":{"field":"x2"},"y2":{"field":"y2"}}},
{"data":{"name":"ann"},"transform":[{"filter":"datum.p==3"}],"mark":{"type":"text","align":"left","baseline":"middle","dx":4,"fontSize":12,"font":"Liberation Serif","color":"#111111"},
"encoding":{"x":{"datum":-324,"type":"quantitative","title":"公司企业 POI/个","axis":{"values":[0,1500,3000,4500],"format":"d","labelOverlap":false}},"y":{"datum":18.85,"type":"quantitative","title":null,"axis":{"values":[5,10,15],"format":"d","labelOverlap":false}},"text":{"field":"eq"}}},
{"data":{"name":"ann"},"transform":[{"filter":"datum.p==3"}],"mark":{"type":"text","align":"left","baseline":"middle","dx":4,"fontSize":12,"font":"Liberation Serif","color":"#111111"},
"encoding":{"x":{"datum":-324,"type":"quantitative","title":"公司企业 POI/个","axis":{"values":[0,1500,3000,4500],"format":"d","labelOverlap":false}},"y":{"datum":15.9,"type":"quantitative","title":null,"axis":{"values":[5,10,15],"format":"d","labelOverlap":false}},"text":{"field":"r2"}}}
]},
{"width":150,"height":123,"layer":[
{"data":{"name":"pts"},"transform":[{"filter":"datum.p==4"}],"mark":{"type":"circle","size":13,"color":"#0000ff","opacity":1},
"encoding":{"x":{"field":"x","type":"quantitative","title":"购物 POI/个","scale":{"domain":[-15.7,227.5],"nice":false,"zero":false},"axis":{"values":[0,100,200],"format":"d","labelOverlap":false}},
"y":{"field":"y","type":"quantitative","title":null,"scale":{"domain":[0.6,19.05],"nice":false,"zero":false},"axis":{"values":[5,10,15],"format":"d","labelOverlap":false}}}},
{"data":{"name":"fit"},"transform":[{"filter":"datum.p==4"}],"mark":{"type":"rule","color":"#ff0000","strokeWidth":1.2},
"encoding":{"x":{"field":"x1","type":"quantitative","title":"购物 POI/个","axis":{"values":[0,100,200],"format":"d","labelOverlap":false}},"y":{"field":"y1","type":"quantitative","title":null,"axis":{"values":[5,10,15],"format":"d","labelOverlap":false}},"x2":{"field":"x2"},"y2":{"field":"y2"}}},
{"data":{"name":"ann"},"transform":[{"filter":"datum.p==4"}],"mark":{"type":"text","align":"left","baseline":"middle","dx":4,"fontSize":12,"font":"Liberation Serif","color":"#111111"},
"encoding":{"x":{"datum":-15.7,"type":"quantitative","title":"购物 POI/个","axis":{"values":[0,100,200],"format":"d","labelOverlap":false}},"y":{"datum":18.74,"type":"quantitative","title":null,"axis":{"values":[5,10,15],"format":"d","labelOverlap":false}},"text":{"field":"eq"}}},
{"data":{"name":"ann"},"transform":[{"filter":"datum.p==4"}],"mark":{"type":"text","align":"left","baseline":"middle","dx":4,"fontSize":12,"font":"Liberation Serif","color":"#111111"},
"encoding":{"x":{"datum":-15.7,"type":"quantitative","title":"购物 POI/个","axis":{"values":[0,100,200],"format":"d","labelOverlap":false}},"y":{"datum":16.04,"type":"quantitative","title":null,"axis":{"values":[5,10,15],"format":"d","labelOverlap":false}},"text":{"field":"r2"}}}
]},
{"width":150,"height":123,"layer":[
{"data":{"name":"pts"},"transform":[{"filter":"datum.p==5"}],"mark":{"type":"circle","size":13,"color":"#0000ff","opacity":1},
"encoding":{"x":{"field":"x","type":"quantitative","title":"交通设施 POI/个","scale":{"domain":[-134,2174],"nice":false,"zero":false},"axis":{"values":[0,500,1000,1500,2000],"format":"d","labelOverlap":false}},
"y":{"field":"y","type":"quantitative","title":null,"scale":{"domain":[0.6,19.2],"nice":false,"zero":false},"axis":{"values":[5,10,15],"format":"d","labelOverlap":false}}}},
{"data":{"name":"fit"},"transform":[{"filter":"datum.p==5"}],"mark":{"type":"rule","color":"#ff0000","strokeWidth":1.2},
"encoding":{"x":{"field":"x1","type":"quantitative","title":"交通设施 POI/个","axis":{"values":[0,500,1000,1500,2000],"format":"d","labelOverlap":false}},"y":{"field":"y1","type":"quantitative","title":null,"axis":{"values":[5,10,15],"format":"d","labelOverlap":false}},"x2":{"field":"x2"},"y2":{"field":"y2"}}},
{"data":{"name":"ann"},"transform":[{"filter":"datum.p==5"}],"mark":{"type":"text","align":"left","baseline":"middle","dx":4,"fontSize":12,"font":"Liberation Serif","color":"#111111"},
"encoding":{"x":{"datum":-134,"type":"quantitative","title":"交通设施 POI/个","axis":{"values":[0,500,1000,1500,2000],"format":"d","labelOverlap":false}},"y":{"datum":18.8,"type":"quantitative","title":null,"axis":{"values":[5,10,15],"format":"d","labelOverlap":false}},"text":{"field":"eq"}}},
{"data":{"name":"ann"},"transform":[{"filter":"datum.p==5"}],"mark":{"type":"text","align":"left","baseline":"middle","dx":4,"fontSize":12,"font":"Liberation Serif","color":"#111111"},
"encoding":{"x":{"datum":-134,"type":"quantitative","title":"交通设施 POI/个","axis":{"values":[0,500,1000,1500,2000],"format":"d","labelOverlap":false}},"y":{"datum":16.06,"type":"quantitative","title":null,"axis":{"values":[5,10,15],"format":"d","labelOverlap":false}},"text":{"field":"r2"}}}
]},
{"width":150,"height":115,"layer":[
{"data":{"name":"pts"},"transform":[{"filter":"datum.p==6"}],"mark":{"type":"circle","size":13,"color":"#0000ff","opacity":1},
"encoding":{"x":{"field":"x","type":"quantitative","title":"教育医疗 POI/个","scale":{"domain":[-44.6,675],"nice":false,"zero":false},"axis":{"values":[0,200,400,600],"format":"d","labelOverlap":false}},
"y":{"field":"y","type":"quantitative","title":"人口/万人","scale":{"domain":[0.08,18.3],"nice":false,"zero":false},"axis":{"values":[5,10,15],"format":"d","labelOverlap":false}}}},
{"data":{"name":"fit"},"transform":[{"filter":"datum.p==6"}],"mark":{"type":"rule","color":"#ff0000","strokeWidth":1.2},
"encoding":{"x":{"field":"x1","type":"quantitative","title":"教育医疗 POI/个","axis":{"values":[0,200,400,600],"format":"d","labelOverlap":false}},"y":{"field":"y1","type":"quantitative","title":"人口/万人","axis":{"values":[5,10,15],"format":"d","labelOverlap":false}},"x2":{"field":"x2"},"y2":{"field":"y2"}}},
{"data":{"name":"ann"},"transform":[{"filter":"datum.p==6"}],"mark":{"type":"text","align":"left","baseline":"middle","dx":4,"fontSize":12,"font":"Liberation Serif","color":"#111111"},
"encoding":{"x":{"datum":-44.6,"type":"quantitative","title":"教育医疗 POI/个","axis":{"values":[0,200,400,600],"format":"d","labelOverlap":false}},"y":{"datum":19.13,"type":"quantitative","title":"人口/万人","axis":{"values":[5,10,15],"format":"d","labelOverlap":false}},"text":{"field":"eq"}}},
{"data":{"name":"ann"},"transform":[{"filter":"datum.p==6"}],"mark":{"type":"text","align":"left","baseline":"middle","dx":4,"fontSize":12,"font":"Liberation Serif","color":"#111111"},
"encoding":{"x":{"datum":-44.6,"type":"quantitative","title":"教育医疗 POI/个","axis":{"values":[0,200,400,600],"format":"d","labelOverlap":false}},"y":{"datum":16.1,"type":"quantitative","title":"人口/万人","axis":{"values":[5,10,15],"format":"d","labelOverlap":false}},"text":{"field":"r2"}}}
]},
{"width":150,"height":115,"layer":[
{"data":{"name":"pts"},"transform":[{"filter":"datum.p==7"}],"mark":{"type":"circle","size":13,"color":"#0000ff","opacity":1},
"encoding":{"x":{"field":"x","type":"quantitative","title":"旅游景点 POI/个","scale":{"domain":[-18,354],"nice":false,"zero":false},"axis":{"values":[0,100,200,300],"format":"d","labelOverlap":false}},
"y":{"field":"y","type":"quantitative","title":null,"scale":{"domain":[0.26,18.6],"nice":false,"zero":false},"axis":{"values":[5,10,15],"format":"d","labelOverlap":false}}}},
{"data":{"name":"fit"},"transform":[{"filter":"datum.p==7"}],"mark":{"type":"rule","color":"#ff0000","strokeWidth":1.2},
"encoding":{"x":{"field":"x1","type":"quantitative","title":"旅游景点 POI/个","axis":{"values":[0,100,200,300],"format":"d","labelOverlap":false}},"y":{"field":"y1","type":"quantitative","title":null,"axis":{"values":[5,10,15],"format":"d","labelOverlap":false}},"x2":{"field":"x2"},"y2":{"field":"y2"}}},
{"data":{"name":"ann"},"transform":[{"filter":"datum.p==7"}],"mark":{"type":"text","align":"left","baseline":"middle","dx":4,"fontSize":12,"font":"Liberation Serif","color":"#111111"},
"encoding":{"x":{"datum":-18,"type":"quantitative","title":"旅游景点 POI/个","axis":{"values":[0,100,200,300],"format":"d","labelOverlap":false}},"y":{"datum":18.6,"type":"quantitative","title":null,"axis":{"values":[5,10,15],"format":"d","labelOverlap":false}},"text":{"field":"eq"}}},
{"data":{"name":"ann"},"transform":[{"filter":"datum.p==7"}],"mark":{"type":"text","align":"left","baseline":"middle","dx":4,"fontSize":12,"font":"Liberation Serif","color":"#111111"},
"encoding":{"x":{"datum":-18,"type":"quantitative","title":"旅游景点 POI/个","axis":{"values":[0,100,200,300],"format":"d","labelOverlap":false}},"y":{"datum":15.7,"type":"quantitative","title":null,"axis":{"values":[5,10,15],"format":"d","labelOverlap":false}},"text":{"field":"r2"}}}
]},
{"width":150,"height":115,"layer":[
{"data":{"name":"pts"},"transform":[{"filter":"datum.p==8"}],"mark":{"type":"circle","size":13,"color":"#0000ff","opacity":1},
"encoding":{"x":{"field":"x","type":"quantitative","title":"文化体育 POI/个","scale":{"domain":[-48,630],"nice":false,"zero":false},"axis":{"values":[0,200,400,600],"format":"d","labelOverlap":false}},
"y":{"field":"y","type":"quantitative","title":null,"scale":{"domain":[0.38,18.1],"nice":false,"zero":false},"axis":{"values":[5,10,15],"format":"d","labelOverlap":false}}}},
{"data":{"name":"fit"},"transform":[{"filter":"datum.p==8"}],"mark":{"type":"rule","color":"#ff0000","strokeWidth":1.2},
"encoding":{"x":{"field":"x1","type":"quantitative","title":"文化体育 POI/个","axis":{"values":[0,200,400,600],"format":"d","labelOverlap":false}},"y":{"field":"y1","type":"quantitative","title":null,"axis":{"values":[5,10,15],"format":"d","labelOverlap":false}},"x2":{"field":"x2"},"y2":{"field":"y2"}}},
{"data":{"name":"ann"},"transform":[{"filter":"datum.p==8"}],"mark":{"type":"text","align":"left","baseline":"middle","dx":4,"fontSize":12,"font":"Liberation Serif","color":"#111111"},
"encoding":{"x":{"datum":-48,"type":"quantitative","title":"文化体育 POI/个","axis":{"values":[0,200,400,600],"format":"d","labelOverlap":false}},"y":{"datum":19.0,"type":"quantitative","title":null,"axis":{"values":[5,10,15],"format":"d","labelOverlap":false}},"text":{"field":"eq"}}},
{"data":{"name":"ann"},"transform":[{"filter":"datum.p==8"}],"mark":{"type":"text","align":"left","baseline":"middle","dx":4,"fontSize":12,"font":"Liberation Serif","color":"#111111"},
"encoding":{"x":{"datum":-48,"type":"quantitative","title":"文化体育 POI/个","axis":{"values":[0,200,400,600],"format":"d","labelOverlap":false}},"y":{"datum":16.23,"type":"quantitative","title":null,"axis":{"values":[5,10,15],"format":"d","labelOverlap":false}},"text":{"field":"r2"}}}
]},
{"width":150,"height":115,"layer":[
{"data":{"name":"pts"},"transform":[{"filter":"datum.p==9"}],"mark":{"type":"circle","size":13,"color":"#0000ff","opacity":1},
"encoding":{"x":{"field":"x","type":"quantitative","title":"政府机关及社会团体 POI/个","scale":{"domain":[-16,1224],"nice":false,"zero":false},"axis":{"values":[0,500,1000],"format":"d","labelOverlap":false}},
"y":{"field":"y","type":"quantitative","title":null,"scale":{"domain":[0.32,20.5],"nice":false,"zero":false},"axis":{"values":[5,10,15,20],"format":"d","labelOverlap":false}}}},
{"data":{"name":"fit"},"transform":[{"filter":"datum.p==9"}],"mark":{"type":"rule","color":"#ff0000","strokeWidth":1.2},
"encoding":{"x":{"field":"x1","type":"quantitative","title":"政府机关及社会团体 POI/个","axis":{"values":[0,500,1000],"format":"d","labelOverlap":false}},"y":{"field":"y1","type":"quantitative","title":null,"axis":{"values":[5,10,15,20],"format":"d","labelOverlap":false}},"x2":{"field":"x2"},"y2":{"field":"y2"}}},
{"data":{"name":"ann"},"transform":[{"filter":"datum.p==9"}],"mark":{"type":"text","align":"left","baseline":"middle","dx":4,"fontSize":12,"font":"Liberation Serif","color":"#111111"},
"encoding":{"x":{"datum":-16,"type":"quantitative","title":"政府机关及社会团体 POI/个","axis":{"values":[0,500,1000],"format":"d","labelOverlap":false}},"y":{"datum":21.0,"type":"quantitative","title":null,"axis":{"values":[5,10,15,20],"format":"d","labelOverlap":false}},"text":{"field":"eq"}}},
{"data":{"name":"ann"},"transform":[{"filter":"datum.p==9"}],"mark":{"type":"text","align":"left","baseline":"middle","dx":4,"fontSize":12,"font":"Liberation Serif","color":"#111111"},
"encoding":{"x":{"datum":-16,"type":"quantitative","title":"政府机关及社会团体 POI/个","axis":{"values":[0,500,1000],"format":"d","labelOverlap":false}},"y":{"datum":17.86,"type":"quantitative","title":null,"axis":{"values":[5,10,15,20],"format":"d","labelOverlap":false}},"text":{"field":"r2"}}}
]},
{"width":150,"height":115,"layer":[
{"data":{"name":"pts"},"transform":[{"filter":"datum.p==10"}],"mark":{"type":"circle","size":13,"color":"#0000ff","opacity":1},
"encoding":{"x":{"field":"x","type":"quantitative","title":"商业 POI/个","scale":{"domain":[-16.7,283],"nice":false,"zero":false},"axis":{"values":[0,100,200],"format":"d","labelOverlap":false}},
"y":{"field":"y","type":"quantitative","title":null,"scale":{"domain":[0,18.3],"nice":false,"zero":false},"axis":{"values":[5,10,15],"format":"d","labelOverlap":false}}}},
{"data":{"name":"fit"},"transform":[{"filter":"datum.p==10"}],"mark":{"type":"rule","color":"#ff0000","strokeWidth":1.2},
"encoding":{"x":{"field":"x1","type":"quantitative","title":"商业 POI/个","axis":{"values":[0,100,200],"format":"d","labelOverlap":false}},"y":{"field":"y1","type":"quantitative","title":null,"axis":{"values":[5,10,15],"format":"d","labelOverlap":false}},"x2":{"field":"x2"},"y2":{"field":"y2"}}},
{"data":{"name":"ann"},"transform":[{"filter":"datum.p==10"}],"mark":{"type":"text","align":"left","baseline":"middle","dx":4,"fontSize":12,"font":"Liberation Serif","color":"#111111"},
"encoding":{"x":{"datum":-16.7,"type":"quantitative","title":"商业 POI/个","axis":{"values":[0,100,200],"format":"d","labelOverlap":false}},"y":{"datum":19.14,"type":"quantitative","title":null,"axis":{"values":[5,10,15],"format":"d","labelOverlap":false}},"text":{"field":"eq"}}},
{"data":{"name":"ann"},"transform":[{"filter":"datum.p==10"}],"mark":{"type":"text","align":"left","baseline":"middle","dx":4,"fontSize":12,"font":"Liberation Serif","color":"#111111"},
"encoding":{"x":{"datum":-16.7,"type":"quantitative","title":"商业 POI/个","axis":{"values":[0,100,200],"format":"d","labelOverlap":false}},"y":{"datum":16.27,"type":"quantitative","title":null,"axis":{"values":[5,10,15],"format":"d","labelOverlap":false}},"text":{"field":"r2"}}}
]}
],
"columns":5,
"spacing":{"row":72,"column":31.5},
"bounds":"flush",
"config":{
"font":"Liberation Serif",
"view":{"stroke":null},
"axis":{"domainColor":"#8a8a8a","domainWidth":1,"ticks":false,"tickSize":0,"grid":false,"labelFont":"Liberation Serif","labelFontSize":12.5,"labelColor":"#222222","labelPadding":3,"labelOverlap":false,"labelFlush":false,"titleFont":"Liberation Serif, Noto Sans CJK SC","titleFontSize":15,"titleFontWeight":"normal","titleColor":"#222222"},
"axisY":{"titlePadding":6,"titleFontSize":16},
"axisX":{"titlePadding":3}
}
}
